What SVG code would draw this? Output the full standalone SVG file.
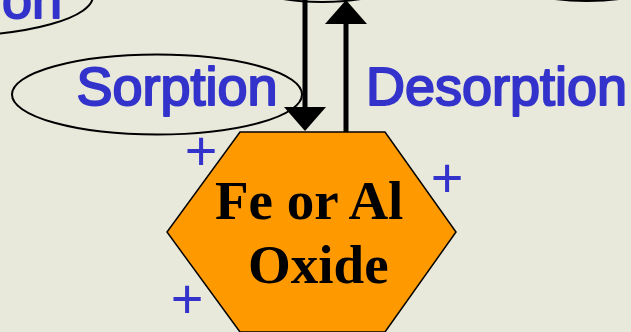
<svg xmlns="http://www.w3.org/2000/svg" width="631" height="332" viewBox="0 0 631 332">
<style>
.bg{fill:#e8e8db}
.ell{fill:none;stroke:#000;stroke-width:2}
.lbl{font-family:"Liberation Sans",Arial,sans-serif;font-size:54px;fill:#3333cc;stroke:#3333cc;stroke-width:2;stroke-linejoin:round}
.plus{font-family:"Liberation Sans",Arial,sans-serif;font-size:56px;fill:#3333cc;text-anchor:middle}
.hex{fill:#ff9900;stroke:#000;stroke-width:1.5}
.ox{font-family:"Liberation Serif","Times New Roman",serif;font-weight:bold;font-size:55px;fill:#000}
.arr{stroke:#000;stroke-width:5;fill:none}
</style>
<defs>
<marker id="ah" viewBox="0 0 24 42" refX="2" refY="21" markerWidth="24" markerHeight="42" markerUnits="userSpaceOnUse" orient="auto">
<path d="M0,0 L24,21 L0,42 z" fill="#000"/>
</marker>
</defs>
<rect class="bg" x="0" y="0" width="631" height="332"/>
<g id="precip-label">
<ellipse class="ell" cx="-52" cy="-4" rx="145" ry="40"/>
<text class="lbl" x="62" y="18" text-anchor="end">on</text>
</g>
<g id="top-center">
<ellipse class="ell" cx="322" cy="-38" rx="100" ry="40"/>
</g>
<g id="top-right">
<ellipse class="ell" cx="587" cy="-39" rx="100" ry="40"/>
</g>
<g id="sorption">
<ellipse class="ell" cx="157" cy="94.5" rx="145" ry="40"/>
<text class="lbl" x="76.5" y="105">Sorption</text>
</g>
<g id="desorption">
<text class="lbl" x="366" y="105">Desorption</text>
</g>
<g id="connectors">
<line class="arr" x1="305" y1="0" x2="305" y2="109" marker-end="url(#ah)"/>
<line class="arr" x1="346" y1="133" x2="346" y2="22" marker-end="url(#ah)"/>
</g>
<g id="oxide">
<polygon class="hex" points="240,132 385,132 456,232 385,332 240,332 167,232"/>
<text class="ox" x="215" y="219">Fe or Al</text>
<text class="ox" x="248" y="283">Oxide</text>
</g>
<g id="charges">
<text class="plus" x="201" y="170">+</text>
<text class="plus" x="447" y="197">+</text>
<text class="plus" x="187" y="318">+</text>
</g>
</svg>
